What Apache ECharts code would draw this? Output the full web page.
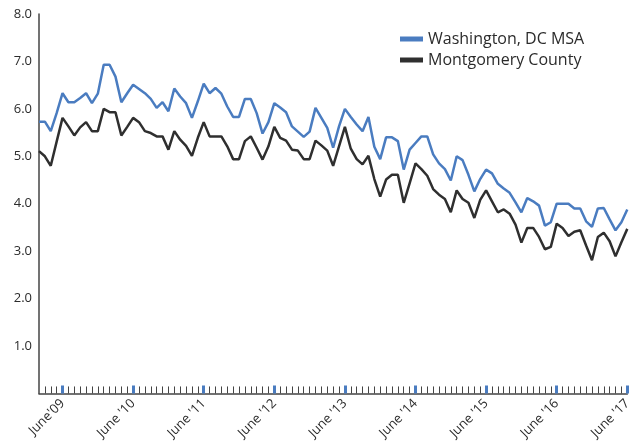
<!DOCTYPE html>
<html>
<head>
<meta charset="utf-8">
<script src="https://cdn.jsdelivr.net/npm/echarts@6/dist/echarts.min.js"></script>
<style>html,body{margin:0;padding:0;background:#fff}#c{width:634px;height:442px}</style>
</head>
<body>
<div id="c"></div>
<script>
// Monthly, Feb 2009 .. Jun 2017
const startYear = 2009, startMonth = 2;
const seriesNames = ["Washington, DC MSA", "Montgomery County"];
const dcMsa = [
5.73,5.73,5.53,5.91,6.33,6.14,6.14,6.23,6.33,6.12,6.32,6.93,6.93,6.68,6.14,6.33,6.51,6.42,6.33,6.21,6.02,6.14,5.95,6.43,6.26,6.12,
5.81,6.16,6.53,6.33,6.44,6.32,6.05,5.83,5.83,6.21,6.21,5.91,5.48,5.72,6.12,6.03,5.93,5.63,5.52,5.41,5.52,6.02,5.81,5.60,5.18,
5.63,6.00,5.83,5.67,5.53,5.83,5.20,4.94,5.40,5.40,5.32,4.72,5.14,5.28,5.42,5.42,5.04,4.85,4.73,4.49,5.00,4.92,4.61,4.26,4.52,
4.72,4.64,4.42,4.32,4.23,4.03,3.82,4.12,4.05,3.96,3.54,3.61,4.00,4.00,4.00,3.90,3.90,3.63,3.51,3.90,3.91,3.67,3.44,3.61,3.88
];
const montgomery = [
5.11,5.00,4.80,5.31,5.81,5.63,5.44,5.61,5.72,5.53,5.53,6.00,5.93,5.93,5.44,5.62,5.81,5.72,5.53,5.49,5.42,5.42,5.14,5.53,5.35,5.22,
5.01,5.39,5.72,5.42,5.42,5.42,5.21,4.94,4.94,5.32,5.42,5.18,4.93,5.21,5.62,5.39,5.33,5.14,5.12,4.94,4.94,5.33,5.23,5.12,4.80,
5.21,5.62,5.16,4.94,4.83,5.01,4.52,4.15,4.51,4.61,4.61,4.02,4.43,4.85,4.73,4.59,4.31,4.19,4.10,3.82,4.28,4.10,4.02,3.70,4.08,
4.28,4.05,3.82,3.88,3.79,3.56,3.18,3.49,3.49,3.30,3.04,3.09,3.58,3.49,3.32,3.41,3.44,3.12,2.81,3.30,3.39,3.21,2.89,3.19,3.47
];
const tickLabels = ["June'09","June '10","June '11","June '12","June '13","June '14","June '15","June '16","June '17"];
const yTicks = [1,2,3,4,5,6,7,8];

const categories = [];
for (let i = 0; i < dcMsa.length; i++) {
  const m = (startMonth - 1 + i) % 12 + 1;
  const y = startYear + Math.floor((startMonth - 1 + i) / 12);
  categories.push(y + "-" + String(m).padStart(2, "0"));
}
const isJune = (idx) => categories[idx] && categories[idx].endsWith("-06");
const labelFor = (v) => {
  const y = parseInt(v.slice(0, 4), 10);
  return tickLabels[y - 2009] || "";
};

const font = "'Open Sans', 'Noto Sans', sans-serif";
const chart = echarts.init(document.getElementById('c'), null, {renderer: 'canvas'});
chart.setOption({
  animation: false,
  backgroundColor: '#fff',
  grid: {left: 39, right: 3, top: 14, bottom: 48, containLabel: false},
  legend: {
    orient: 'vertical', left: 395, top: 25,
    itemWidth: 23, itemHeight: 5, itemGap: 3,
    icon: 'rect',
    data: seriesNames,
    textStyle: {fontFamily: font, fontSize: 16, color: '#2b2b2b', lineHeight: 18, padding: [0, 0, 0, 0]}
  },
  xAxis: [{
    type: 'category', data: categories, boundaryGap: false, position: 'bottom',
    axisLine: {lineStyle: {color: '#444', width: 1.5}},
    axisTick: {inside: true, length: 7, interval: (idx) => !isJune(idx) && idx > 0, lineStyle: {color: '#444', width: 1}},
    axisLabel: {
      interval: (idx) => isJune(idx), rotate: 45, margin: 8,
      formatter: (v) => labelFor(v),
      fontFamily: font, fontSize: 13, color: '#2b2b2b'
    },
    splitLine: {show: false}
  }, {
    type: 'category', data: categories, boundaryGap: false, position: 'bottom',
    axisLine: {show: false},
    axisTick: {inside: true, length: 8, interval: (idx) => isJune(idx), lineStyle: {color: '#4a7cc0', width: 3}},
    axisLabel: {show: false},
    splitLine: {show: false}
  }],
  yAxis: {
    type: 'value', min: 0, max: 8, interval: 1,
    axisLine: {show: true, lineStyle: {color: '#444', width: 1.5}},
    axisTick: {show: false},
    splitLine: {show: false},
    axisLabel: {
      margin: 7, fontFamily: font, fontSize: 13, color: '#2b2b2b',
      formatter: (v) => yTicks.includes(v) ? v.toFixed(1) : ''
    }
  },
  series: [{
    name: seriesNames[0], type: 'line', data: dcMsa, symbol: 'none',
    lineStyle: {color: '#4a7cc0', width: 2.5}, itemStyle: {color: '#4a7cc0'}, z: 3
  }, {
    name: seriesNames[1], type: 'line', data: montgomery, symbol: 'none',
    lineStyle: {color: '#2f2f2f', width: 2.5}, itemStyle: {color: '#2f2f2f'}, z: 2
  }]
});
</script>
</body>
</html>
